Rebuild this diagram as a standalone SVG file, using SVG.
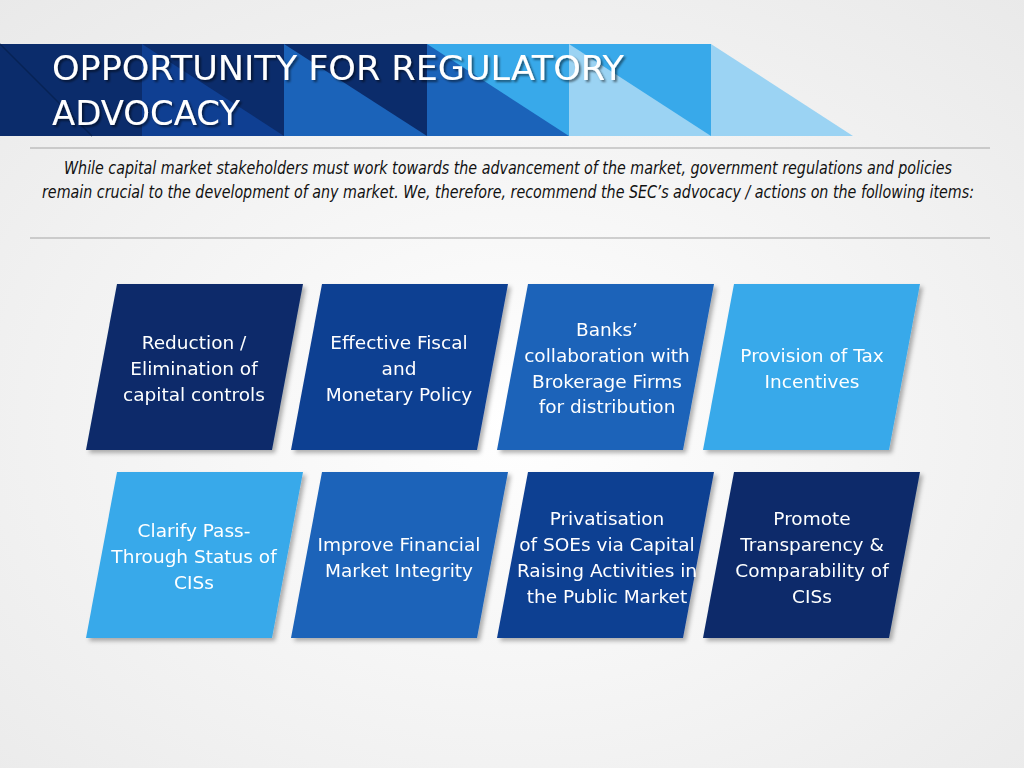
<svg xmlns="http://www.w3.org/2000/svg" width="1024" height="768" viewBox="0 0 1024 768">
<defs>
<radialGradient id="bg" cx="0.5" cy="0.55" r="0.75"><stop offset="0" stop-color="#ffffff"/><stop offset="1" stop-color="#e9e9e9"/></radialGradient>
<filter id="sh" x="-10%" y="-10%" width="125%" height="125%"><feDropShadow dx="3" dy="3" stdDeviation="2" flood-color="#000" flood-opacity="0.3"/></filter>
<filter id="tsh"><feDropShadow dx="2" dy="2" stdDeviation="1" flood-color="#000" flood-opacity="0.5"/></filter>
<path id="card" d="M31,0 H217 L186,166 H0 Z"/>
</defs>
<style>
.t{font-family:"DejaVu Sans",Verdana,sans-serif;font-size:18.5px;fill:#fff;text-anchor:middle}
.c1{fill:#0b2c6b}.c2{fill:#0f3f92}.c3{fill:#1b63b9}.c4{fill:#38a9ea}
</style>
<rect width="1024" height="768" fill="url(#bg)"/>
<g id="header">
<rect x="0" y="44" width="142" height="92" fill="#0b2c6b"/>
<path d="M0,44 L92,136" stroke="#072255" stroke-width="1.5"/>
<rect x="142" y="44" width="142" height="92" fill="#0f3f92"/>
<path d="M142,44 H284 V136 Z" fill="#0b2c6b"/>
<rect x="284" y="44" width="143" height="92" fill="#1b63b9"/>
<path d="M284,44 H427 V136 Z" fill="#0b2c6b"/>
<rect x="427" y="44" width="142" height="92" fill="#1b63b9"/>
<path d="M427,44 H569 V136 Z" fill="#38a9ea"/>
<rect x="569" y="44" width="142" height="92" fill="#9bd3f3"/>
<path d="M569,44 H711 V136 Z" fill="#38a9ea"/>
<path d="M711,44 L853,136 H711 Z" fill="#9bd3f3"/>
<g font-family="DejaVu Sans Condensed,'DejaVu Sans',sans-serif" font-size="33" fill="#fff" filter="url(#tsh)">
<text x="52" y="80" textLength="572" lengthAdjust="spacingAndGlyphs">OPPORTUNITY FOR REGULATORY</text>
<text x="52" y="125" textLength="188" lengthAdjust="spacingAndGlyphs">ADVOCACY</text>
</g>
</g>
<g id="intro">
<line x1="30" y1="148" x2="990" y2="148" stroke="#a6a6a6" stroke-width="1.2"/>
<line x1="30" y1="238" x2="990" y2="238" stroke="#a6a6a6" stroke-width="1.2"/>
<g font-family="DejaVu Sans Condensed,'DejaVu Sans',sans-serif" font-size="17" font-style="italic" fill="#111" text-anchor="middle">
<text x="508" y="174" textLength="888" lengthAdjust="spacingAndGlyphs">While capital market stakeholders must work towards the advancement of the market, government regulations and policies</text>
<text x="508" y="198" textLength="932" lengthAdjust="spacingAndGlyphs">remain crucial to the development of any market. We, therefore, recommend the SEC’s advocacy / actions on the following items:</text>
</g>
</g>
<g id="n1" filter="url(#sh)"><use href="#card" x="86" y="284" class="c1"/><text class="t"><tspan x="194" y="349">Reduction /</tspan><tspan x="194" y="375">Elimination of</tspan><tspan x="194" y="401">capital controls</tspan></text></g>
<g id="n2" filter="url(#sh)"><use href="#card" x="291" y="284" class="c2"/><text class="t"><tspan x="399" y="349">Effective Fiscal</tspan><tspan x="399" y="375">and</tspan><tspan x="399" y="401">Monetary Policy</tspan></text></g>
<g id="n3" filter="url(#sh)"><use href="#card" x="497" y="284" class="c3"/><text class="t"><tspan x="607" y="336">Banks’</tspan><tspan x="607" y="362">collaboration with</tspan><tspan x="607" y="388">Brokerage Firms</tspan><tspan x="607" y="413">for distribution</tspan></text></g>
<g id="n4" filter="url(#sh)"><use href="#card" x="703" y="284" class="c4"/><text class="t"><tspan x="812" y="362">Provision of Tax</tspan><tspan x="812" y="388">Incentives</tspan></text></g>
<g id="n5" filter="url(#sh)"><use href="#card" x="86" y="472" class="c4"/><text class="t"><tspan x="194" y="537">Clarify Pass-</tspan><tspan x="194" y="563">Through Status of</tspan><tspan x="194" y="589">CISs</tspan></text></g>
<g id="n6" filter="url(#sh)"><use href="#card" x="291" y="472" class="c3"/><text class="t"><tspan x="399" y="551">Improve Financial</tspan><tspan x="399" y="577">Market Integrity</tspan></text></g>
<g id="n7" filter="url(#sh)"><use href="#card" x="497" y="472" class="c2"/><text class="t"><tspan x="607" y="525">Privatisation</tspan><tspan x="607" y="551">of SOEs via Capital</tspan><tspan x="607" y="577">Raising Activities in</tspan><tspan x="607" y="603">the Public Market</tspan></text></g>
<g id="n8" filter="url(#sh)"><use href="#card" x="703" y="472" class="c1"/><text class="t"><tspan x="812" y="525">Promote</tspan><tspan x="812" y="551">Transparency &amp;</tspan><tspan x="812" y="577">Comparability of</tspan><tspan x="812" y="603">CISs</tspan></text></g>
<g id="connectors"/>
</svg>
